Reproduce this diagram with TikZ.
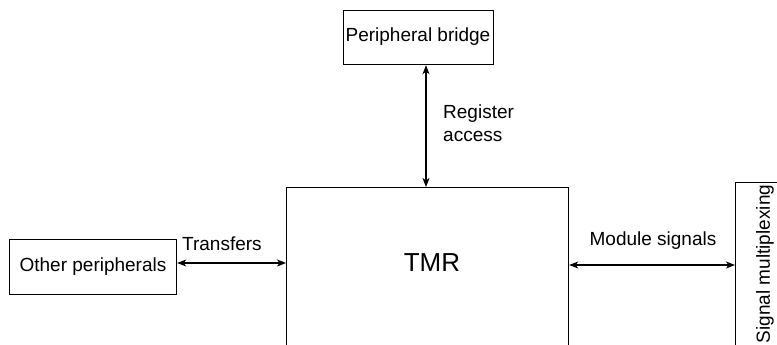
\documentclass[tikz,border=0pt]{standalone}
\usepackage{fontspec}
\setmainfont{Liberation Sans}
\usetikzlibrary{arrows.meta}
\begin{document}
\begin{tikzpicture}[x=1pt,y=-1pt,
  box/.style={draw, line width=1.2pt, rectangle, inner sep=0pt, anchor=north west},
  lbl/.style={font=\fontsize{19}{23}\selectfont, inner sep=0pt},
  arr/.style={line width=1.2pt, {Stealth[length=9pt,width=7pt,inset=2.5pt]}-{Stealth[length=9pt,width=7pt,inset=2.5pt]}}]
\useasboundingbox (0,0) rectangle (777,345);
\node[box, minimum width=150pt, minimum height=54pt] (bridge) at (343,10) {};
\node[lbl] (bridgetxt) at (418,37) {Peripheral bridge};
\node[box, minimum width=282pt, minimum height=190pt] (tmr) at (286,187) {};
\node[font=\fontsize{26}{30}\selectfont, inner sep=0pt] (tmrtxt) at (432,262.5) {TMR};
\node[box, minimum width=167pt, minimum height=55pt] (other) at (9,239) {};
\node[lbl] (othertxt) at (93,266.5) {Other peripherals};
\node[box, minimum width=80pt, minimum height=190pt] (mux) at (735,182) {};
\node[lbl, rotate=90] (muxtxt) at (765,264) {Signal multiplexing};
\coordinate (ax) at (426,0);
\coordinate (ty) at (0,263);
\coordinate (my) at (0,265);
\draw[arr] (bridge.south -| ax) -- (tmr.north -| ax);
\draw[arr] (other.east |- ty) -- (tmr.west |- ty);
\draw[arr] (tmr.east |- my) -- (mux.west |- my);
\node[lbl, anchor=west, align=left] (regtxt) at (443,123.5) {Register\\access};
\node[lbl, anchor=west] (trtxt) at (182,244) {Transfers};
\node[lbl] (modtxt) at (653,241) {Module signals};
\end{tikzpicture}
\end{document}
